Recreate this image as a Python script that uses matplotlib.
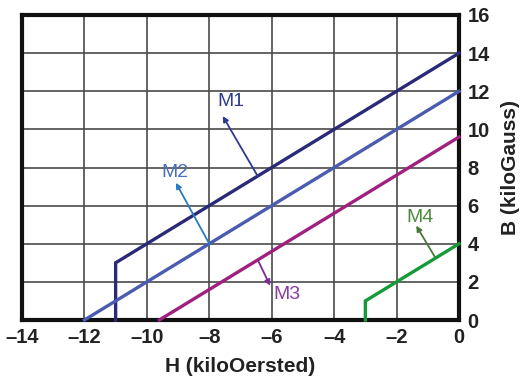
import matplotlib
matplotlib.use("Agg")
import matplotlib.pyplot as plt

plt.rcParams['font.family'] = ['Liberation Sans', 'DejaVu Sans']

# Data (H in kOe, B in kG)
m1_h = [-11, -11, 0]
m1_b = [0, 3, 14]
m2_h = [-12, 0]
m2_b = [0, 12]
m3_h = [-9.6, 0]
m3_b = [0, 9.6]
m4_h = [-3, -3, 0]
m4_b = [0, 1, 4]

x_ticks = [-14, -12, -10, -8, -6, -4, -2, 0]
y_ticks = [0, 2, 4, 6, 8, 10, 12, 14, 16]

labels = ["M1", "M2", "M3", "M4"]
label_xy = [(-7.3, 11.45), (-9.1, 7.75), (-5.5, 1.35), (-1.25, 5.4)]
arrow_tip = [(-7.57, 10.7), (-9.07, 7.2), (-6.05, 1.8), (-1.37, 4.95)]
arrow_tail = [(-6.45, 7.55), (-8.0, 4.0), (-6.43, 3.1), (-0.77, 3.3)]
colors = ["#2a2a78", "#4a5cb0", "#a0207f", "#159a3a"]
text_colors = ["#2e3a8f", "#4a6cc0", "#8a3aa0", "#4a8a3a"]
arrow_colors = ["#2e3a8f", "#2a7ac0", "#7a2a90", "#4a7a3a"]

fig = plt.figure(figsize=(5.25, 3.81), dpi=100)
ax = fig.add_axes([22/525, 1-320/381, (459-22)/525, (320-15)/381])

for h, b, c in zip([m1_h, m2_h, m3_h, m4_h], [m1_b, m2_b, m3_b, m4_b], colors):
    ax.plot(h, b, color=c, lw=2.4, solid_joinstyle='miter', zorder=3, clip_on=False)

for lab, xy, tip, tail, tc, ac in zip(labels, label_xy, arrow_tip, arrow_tail, text_colors, arrow_colors):
    ax.text(xy[0], xy[1], lab, color=tc, fontsize=14, ha='center', va='center', zorder=5)
    ax.annotate("", xy=tip, xytext=tail,
                arrowprops=dict(arrowstyle='-|>', color=ac, lw=1.3,
                                mutation_scale=8, shrinkA=0, shrinkB=0), zorder=4)

ax.set_xlim(-14, 0)
ax.set_ylim(0, 16)
ax.set_xticks(x_ticks)
ax.set_yticks(y_ticks)
ax.set_xticklabels([f"{t}".replace('-', '\u2013') for t in x_ticks])
ax.set_yticklabels([str(t) for t in y_ticks])
ax.yaxis.tick_right()
ax.yaxis.set_label_position('right')
ax.tick_params(length=0, labelsize=14.5, pad=6)
for lbl in ax.get_xticklabels() + ax.get_yticklabels():
    lbl.set_fontweight('bold')
    lbl.set_color('#222222')
ax.grid(True, color='#4a4a4a', lw=1.2)
ax.set_axisbelow(True)
for s in ax.spines.values():
    s.set_linewidth(3)
    s.set_color('#111111')
ax.set_xlabel("H (kiloOersted)", fontsize=15, fontweight='bold', color='#222222', labelpad=7)
ax.set_ylabel("B (kiloGauss)", fontsize=15, fontweight='bold', color='#222222', labelpad=8)

fig.savefig("out.png", dpi=100)
